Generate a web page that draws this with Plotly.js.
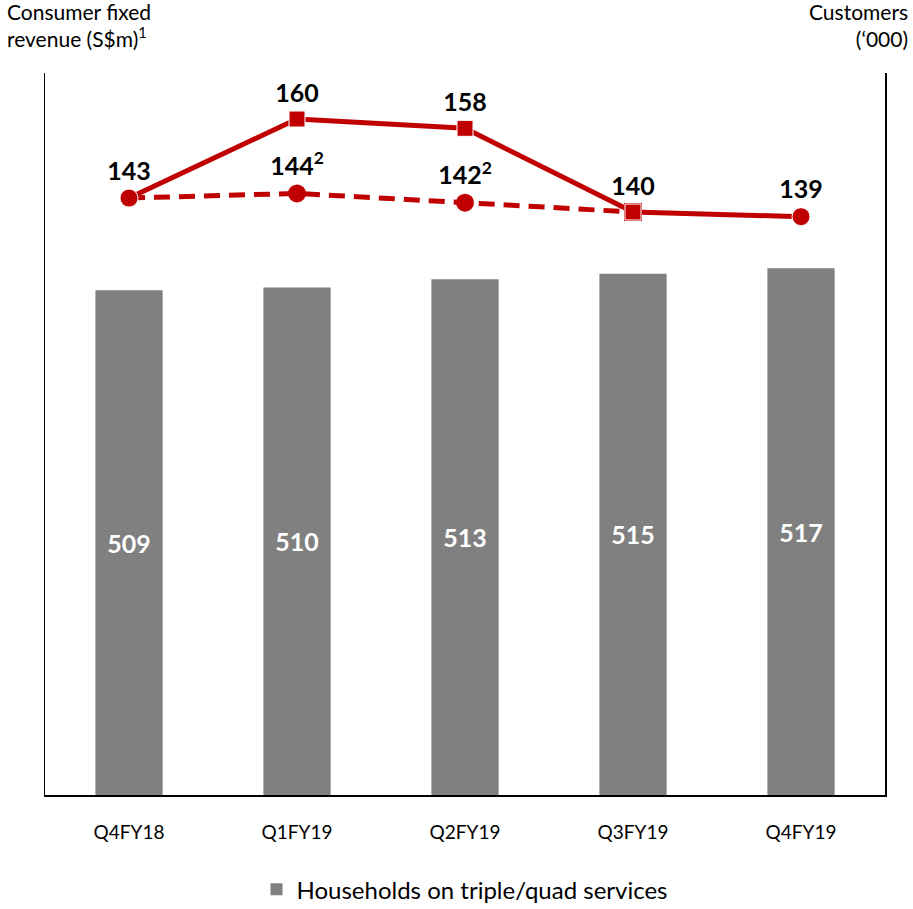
<!DOCTYPE html>
<html>
<head>
<meta charset="utf-8">
<script src="https://cdn.plot.ly/plotly-3.0.1.min.js"></script>
<style>body{margin:0;background:#fff}#chart{width:913px;height:909px}</style>
</head>
<body>
<div id="chart"></div>
<script>
const categories = ['Q4FY18','Q1FY19','Q2FY19','Q3FY19','Q4FY19'];
const households = [509, 510, 513, 515, 517];
const revenue = [143, 160, 158, 140, 139];
const revenueAdjCats = ['Q4FY18','Q1FY19','Q2FY19','Q3FY19'];
const revenueAdj = [143, 144, 142, 140];
const revenueLabels = ['143','160','158','140','139'];
const revenueAdjLabels = [' ', '144<sup>2</sup>', '142<sup>2</sup>', ' '];

const red = '#C00000';
const font = 'Lato, "Open Sans", sans-serif';
const Y2_MIN = 325.4, Y2_MAX = 588;

const traces = [
  {
    type: 'bar', x: categories,
    base: households.map(() => Y2_MIN), y: households.map(v => v - Y2_MIN), yaxis: 'y2',
    name: 'Households on triple/quad services',
    marker: {color: '#808080'}, width: 0.4,
    text: households.map(String), textposition: 'inside', insidetextanchor: 'middle',
    textangle: 0,
    textfont: {color: '#ffffff', size: 25, family: font, weight: 'bold'},
    hoverinfo: 'skip', showlegend: true
  },
  {
    type: 'scatter', mode: 'lines+markers+text', x: revenueAdjCats, y: revenueAdj,
    line: {color: red, width: 5, dash: '16px,9px'},
    marker: {color: red, size: 18, opacity: 1, symbol: ['circle','circle','circle','square']},
    text: revenueAdjLabels, textposition: 'top center',
    textfont: {color: '#000', size: 25, family: font, weight: 'bold'},
    showlegend: false, hoverinfo: 'skip'
  },
  {
    type: 'scatter', mode: 'lines+markers+text', x: categories, y: revenue,
    line: {color: red, width: 5},
    marker: {color: red, size: [18,16,16,16,18], opacity: 1, symbol: ['circle','square','square','square','circle']},
    text: revenueLabels, textposition: 'top center',
    textfont: {color: '#000', size: 25, family: font, weight: 'bold'},
    showlegend: false, hoverinfo: 'skip'
  }
];

const layout = {
  width: 913, height: 909,
  margin: {l: 45, r: 28, t: 73, b: 114, autoexpand: false},
  paper_bgcolor: '#fff', plot_bgcolor: '#fff',
  font: {family: font, color: '#000'},
  xaxis: {
    type: 'category', showgrid: false, zeroline: false,
    showline: true, linecolor: '#000', linewidth: 1.5,
    ticks: '', tickfont: {size: 19, color: '#000'}, ticklabelstandoff: 20, automargin: false
  },
  yaxis: {
    range: [14.6, 169.9], showgrid: false, zeroline: false,
    showline: true, linecolor: '#000', linewidth: 1.5,
    showticklabels: false, ticks: '', automargin: false
  },
  yaxis2: {
    range: [Y2_MIN, Y2_MAX], overlaying: 'y', side: 'right', showgrid: false, zeroline: false,
    showline: true, linecolor: '#000', linewidth: 1.5,
    showticklabels: false, ticks: '', automargin: false
  },
  legend: {
    orientation: 'h', x: 0.5, xanchor: 'center', y: -0.131, yanchor: 'middle',
    font: {size: 24, color: '#000'}, itemwidth: 30
  },
  annotations: [
    {xref: 'paper', yref: 'paper', x: -0.048, y: 1.105, xanchor: 'left', yanchor: 'top', align: 'left',
     text: 'Consumer fixed<br>revenue (S$m)<sup>1</sup>', showarrow: false, font: {size: 21, color: '#000'}},
    {xref: 'paper', yref: 'paper', x: 1.03, y: 1.105, xanchor: 'right', yanchor: 'top', align: 'right',
     text: 'Customers<br>(‘000)', showarrow: false, font: {size: 21, color: '#000'}}
  ],
  bargap: 0.6
};

Plotly.newPlot('chart', traces, layout, {displayModeBar: false, staticPlot: true});
</script>
</body>
</html>
